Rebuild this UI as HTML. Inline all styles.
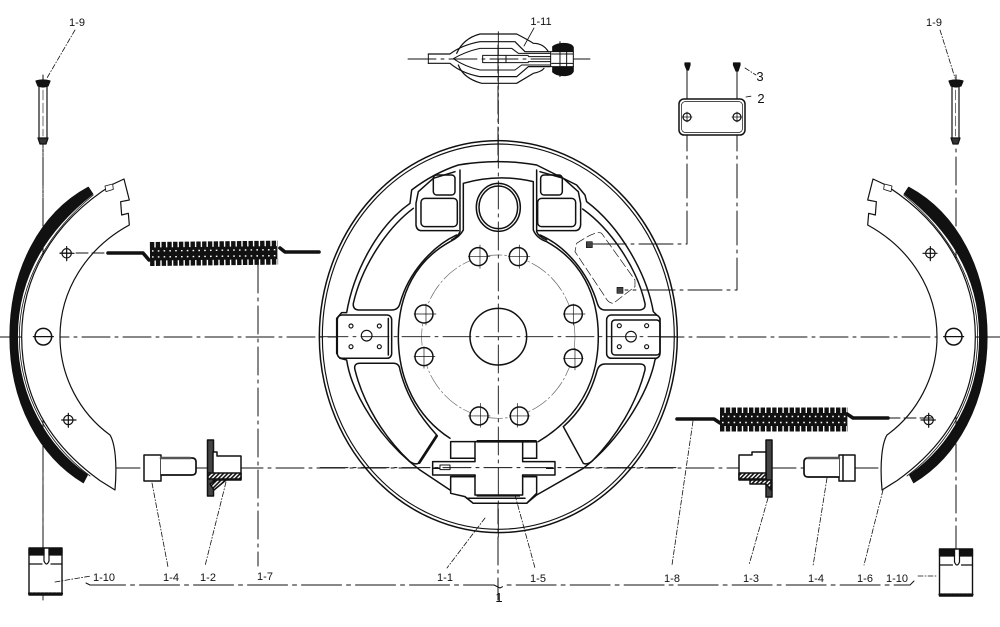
<!DOCTYPE html>
<html><head><meta charset="utf-8"><style>
html,body{margin:0;padding:0;background:#fff;width:1000px;height:627px;overflow:hidden}
svg{display:block}
text{font-family:"Liberation Sans",sans-serif;font-size:11px;fill:#111;stroke:none;text-anchor:middle}
</style></head><body>
<svg width="1000" height="627" viewBox="0 0 1000 627" xmlns="http://www.w3.org/2000/svg" fill="none" stroke="#111" stroke-width="1.200" stroke-linecap="round" stroke-linejoin="round">
<defs>
<pattern id="h" width="3" height="3" patternUnits="userSpaceOnUse" patternTransform="rotate(45)"><rect width="3" height="3" fill="#fff" stroke="none"/><rect width="1.600" height="3" fill="#111" stroke="none"/></pattern>
<g id="shoe">
<g transform="translate(0 170) scale(.3333)" stroke-width="3.600">
<path d="M265,52C120,130 30,300 30,500C30,700 120,860 250,938L262,915C140,830 52,680 52,500C52,320 140,180 278,72Z" fill="#111"/>
<path d="M340,42C150,160 65,330 65,500C65,660 130,810 300,932L345,960C352,880 345,820 330,795C240,730 180,620 180,500C180,360 260,235 388,165L385,130L365,135L362,95L388,90L372,27Z" fill="#fff"/>
<path d="M280,75C140,190 58,340 58,500C58,670 140,820 270,918" stroke-width="2.400"/>
<path d="M315,48L338,42L340,58L318,65Z" fill="#fff" stroke-width="2.400"/>
<circle cx="200" cy="250" r="14" fill="#fff"/><circle cx="205" cy="750" r="14" fill="#fff"/><circle cx="130" cy="500" r="25" fill="#fff" stroke-width="4.500"/>
<path d="M180,250H222M200,230V272M185,750H228M205,730V772M100,500H160"/>
</g></g>
<g id="coil">
<line x1="0" y1="0" x2="128" y2="0" stroke-width="24" stroke-dasharray="4.400 1.400" stroke-linecap="butt"/>
<line x1="1" y1="0" x2="127" y2="0" stroke-width="13" stroke-linecap="butt"/>
<line x1="2" y1="-3" x2="126" y2="-3" stroke="#fff" stroke-width="1.400" stroke-dasharray="1.600 4.200" stroke-linecap="butt"/>
<line x1="2" y1="3" x2="126" y2="3" stroke="#fff" stroke-width="1.400" stroke-dasharray="1.600 4.200" stroke-linecap="butt"/>
</g>
<g id="clip">
<path d="M0,0H33V47H0Z" fill="#fff" stroke-width="1.400"/>
<path d="M0,1H15V7H0ZM20,1H33V7H20Z" fill="#111"/>
<path d="M15,0V13Q17.500,19 20,13V0M0,16H13M22,16H33"/>
<path d="M0,45.500H33" stroke-width="2.200" stroke-dasharray="3 1"/>
</g>
</defs>

<!-- centre lines -->
<g stroke-width="1" stroke-dasharray="28 5 3 5">
<path d="M0,337H1000"/>
<path d="M112,468H908"/>
<path d="M498,45V600"/>
<path d="M43,75V600"/><path d="M956,75V600"/>
<path d="M258,265V566"/>
</g>
<path d="M408,59H590" stroke-width=".9" stroke-dasharray="28 5 3 5"/>

<!-- backing plate -->
<g transform="translate(320 140) scale(.3333)" stroke-width="4.500">
<ellipse cx="535" cy="590" rx="537" ry="588"/>
<ellipse cx="535" cy="590" rx="528" ry="578" stroke-width="3.500"/>
<path d="M415,75Q535,55 650,75L770,135L795,165L800,185C900,260 980,400 1000,515L1020,535V640L1005,660C985,760 900,900 790,985L650,1065L620,1090H460L435,1070L390,1050L300,990C180,900 95,760 80,660L60,655L50,640V535L65,518H80C100,400 170,260 270,190L275,150Q340,100 415,75Z" fill="#fff"/>
<path d="M788,207C870,265 950,380 975,490Q978,508 960,510H855Q838,510 832,490C805,400 740,320 660,285"/>
<path d="M280,205C200,265 125,380 100,490Q98,508 115,510H215Q235,510 240,490C265,400 335,320 410,285"/>
<path d="M105,690Q100,670 120,670H220Q238,670 240,690C260,770 300,830 350,885L295,970Q285,975 270,965C190,890 130,790 105,690Z"/>
<path d="M350,888L298,968" stroke-width="8"/>
<path d="M975,690Q978,672 960,672H855Q838,672 832,690C810,770 775,820 730,860L790,970Q800,975 815,965C890,890 950,790 975,690Z"/>
<path d="M430,130Q535,100 640,125V270Q650,295 680,305C780,360 835,460 835,590C835,720 780,830 655,905M430,130V270Q420,290 390,305C290,360 235,460 235,590C235,720 290,830 390,895"/>
<path d="M420,90V275Q415,290 395,300M650,90V275Q655,290 680,300"/>
<rect x="340" y="105" width="65" height="60" rx="10"/><rect x="303" y="175" width="109" height="85" rx="12"/>
<rect x="662" y="105" width="65" height="60" rx="10"/><rect x="653" y="175" width="114" height="85" rx="12"/>
<path d="M405,95L340,115L295,155L288,190V255Q290,272 305,272H415M660,95L730,115L775,155L782,190V255Q780,272 765,272H650"/>
<rect x="52" y="525" width="163" height="130" rx="14" fill="#fff"/>
<rect x="860" y="525" width="160" height="130" rx="14" fill="#fff"/><rect x="875" y="540" width="145" height="105" rx="10"/>
<path d="M205,535V645"/>
<g fill="#fff" stroke-width="3.500"><circle cx="93" cy="558" r="6"/><circle cx="178" cy="558" r="6"/><circle cx="93" cy="620" r="6"/><circle cx="178" cy="620" r="6"/><circle cx="140" cy="587" r="16"/>
<circle cx="898" cy="557" r="6"/><circle cx="980" cy="557" r="6"/><circle cx="898" cy="620" r="6"/><circle cx="980" cy="620" r="6"/><circle cx="933" cy="590" r="16"/></g>
<ellipse cx="535" cy="202" rx="66" ry="72" fill="#fff"/><ellipse cx="535" cy="202" rx="58" ry="64"/>
<ellipse cx="535" cy="590" rx="230" ry="245" stroke-width="2" stroke-dasharray="50 8 6 8" stroke="#666"/>
<circle cx="535" cy="590" r="85" fill="#fff" stroke-width="4.500"/>
<g fill="#fff" stroke-width="4.500">
<circle cx="475" cy="350" r="27"/><circle cx="595" cy="350" r="27"/><circle cx="312" cy="522" r="27"/><circle cx="760" cy="522" r="27"/>
<circle cx="312" cy="650" r="27"/><circle cx="760" cy="655" r="27"/><circle cx="477" cy="828" r="27"/><circle cx="598" cy="828" r="27"/></g>
<path stroke-width="2" d="M445,350H510M480,315V385M565,350H630M598,315V385M282,522H348M318,492V555M730,522H795M760,492V555M282,650H345M312,620V685M730,655H790M765,625V690M445,828H510M482,790V862M568,828H630M592,790V862"/>
<path stroke-width="2" stroke-dasharray="26 10" d="M770,310Q830,270 845,280L945,420V440L880,490Q865,490 855,470L765,335Z"/>
<!-- cylinder -->
<path fill="#fff" d="M392,905H650V955H608V965H705V1005H608V1010H650V1060L620,1090H460L435,1070L392,1060V1010H465V1005H338V965H465V955H392Z"/>
<path d="M465,905V955M608,905V955M465,1005V1065H608V1005M392,955H465M608,955H650M392,1010H465M608,1010H650M440,1075H615M340,985H390M680,985H700"/>
<rect x="360" y="975" width="30" height="14" fill="#fff" stroke-width="3"/>
<path d="M470,900H650V908H470ZM470,1065H600V1070H470Z" fill="#111" stroke="none"/>
<path d="M0,983H1080" stroke-width="3" stroke-dasharray="84 15 9 15"/>
<path d="M535,0V1200M0,590H1080" stroke-width="2.700" stroke-dasharray="84 15 9 15"/>
<rect x="799" y="305" width="18" height="18" fill="#444" stroke-width="2"/><rect x="891" y="442" width="18" height="18" fill="#444" stroke-width="2"/>
</g>
<path d="M687,70V244H593M737,70V290H625" stroke-width="1" stroke-dasharray="34 5 3 5"/>

<!-- shoes -->
<use href="#shoe"/>
<use href="#shoe" transform="translate(997 0) scale(-1 1)"/>
<path d="M43,120V210M43,470V600" stroke-width=".9" stroke-dasharray="28 5 3 5"/>

<!-- springs -->
<path d="M108,253H143L149,260" stroke-width="3.600"/><path d="M280,248L285,252H319" stroke-width="3.600"/>
<g transform="translate(150 254) rotate(-.6)"><use href="#coil"/></g>
<path d="M677,419H714L720,423" stroke-width="3.600"/><path d="M847,414L853,418H888" stroke-width="3.600"/>
<g transform="translate(720 419.500)"><use href="#coil"/></g>
<path d="M60,253H108" stroke-width="1" stroke-dasharray="12 4"/><path d="M888,418H932" stroke-width="1" stroke-dasharray="12 4"/>

<!-- bolts and bushes -->
<g fill="#fff" stroke-width="1.500">
<rect x="144" y="455" width="17" height="26"/><path d="M161,458H192Q196,458 196,462V471Q196,475 192,475H161" stroke-width="1.700"/><path d="M161,458H190" stroke-width="2.600" stroke="#555"/>
<rect x="207.500" y="440" width="6" height="56" fill="#444"/>
<path d="M213,452H217V456H241V480H213Z"/>
<rect x="208" y="473" width="33" height="6" fill="url(#h)"/><path d="M210,484L216,480H226L214,490Z" fill="url(#h)"/>
<rect x="839" y="455" width="16" height="26"/><path d="M839,458H808Q804,458 804,462V473Q804,477 808,477H839" stroke-width="1.700"/><path d="M839,458H808" stroke-width="2.600" stroke="#555"/><path d="M843,455V481"/>
<rect x="766" y="440" width="6" height="57" fill="#444"/>
<path d="M766,452H752V455H739V480H766Z"/>
<rect x="739" y="473" width="27" height="6" fill="url(#h)"/><path d="M750,480H771V490L766,484H750Z" fill="url(#h)"/>
</g>

<!-- pins -->
<g fill="#fff"><rect x="39" y="86" width="8" height="55"/><path d="M36,81Q43,79 50,81L48,86Q43,88 38,86Z" fill="#111"/><path d="M38,138H48L46,144H40Z" fill="#333"/>
<rect x="952" y="86" width="7" height="55"/><path d="M949,81Q956,79 963,81L961,86Q956,88 951,86Z" fill="#111"/><path d="M951,138H960L958,144H953Z" fill="#333"/></g>
<path d="M43,90V136M955.500,90V136" stroke-width=".6" stroke-dasharray="10 3"/>

<!-- clips -->
<g transform="translate(29 548)"><use href="#clip"/></g>
<g transform="translate(939.500 549)"><use href="#clip"/></g>

<!-- 1-11 -->
<g transform="translate(400 10) scale(.3333)" stroke-width="3">
<path d="M25,147H75M520,147H550" stroke-width="2.500"/>
<path d="M170,130Q190,85 240,72H350Q385,90 400,100Q430,100 445,125M175,165Q190,205 245,220H350L400,190Q425,185 432,175" stroke-width="3.600"/>
<path d="M85,132H150Q185,105 240,95H345L375,125H450M85,160H150Q185,190 240,200H350L385,170H450" stroke-width="3.600"/>
<path d="M160,146Q195,125 240,115H335L355,130H450M160,146Q195,170 240,180H345L365,165H450"/>
<path d="M85,132V160"/>
<path d="M248,136H385M248,158H385M248,136V158M318,136V158M385,140H520M385,155H520" fill="#fff"/>
<path d="M458,125V110Q470,100 490,100Q515,100 520,112V128ZM458,170V186Q470,197 490,197Q515,197 520,184V168Z" fill="#111"/>
<rect x="452" y="125" width="68" height="45" fill="#fff"/>
<path d="M455,132H520M455,160H520M480,95V200M500,125V170"/>
<path d="M295,65V390" stroke-width="2.700" stroke-dasharray="70 12 9 12"/>
</g>

<!-- plate 2 and screws -->
<rect x="679" y="99" width="66" height="36" rx="5" fill="#fff" stroke-width="1.500"/>
<rect x="681.500" y="101.500" width="61" height="31" rx="4" stroke-width=".7"/>
<circle cx="687" cy="117" r="4" fill="#fff"/><circle cx="737" cy="117" r="4" fill="#fff"/>
<path d="M682,117H692M687,112V122M732,117H742M737,112V122" stroke-width=".8"/>
<path d="M685,63H690V65L688.500,70H687L685,65ZM733.500,63H740V65L738,71H736L733.500,65Z" fill="#111"/>
<path d="M687,75V99M737,75V99" stroke-width="1" stroke-dasharray="8 3"/>

<!-- leaders -->
<g stroke-width=".8" stroke-dasharray="5 2 1 2">
<path d="M75,30L47,78"/><path d="M940,30L955,78"/>
<path d="M152,483L168,567"/><path d="M226,482L205,566"/>
<path d="M485,518L447,568"/><path d="M515,495L535,568"/>
<path d="M693,421L672,565"/><path d="M768,498L749,565"/><path d="M827,478L813,566"/><path d="M883,490L864,565"/>
<path d="M55,582L91,576"/><path d="M918,576H938"/>
<path d="M745,68L756,75M746,97L752,96"/>
</g>
<path d="M534,28L524,46" stroke-width=".8"/>
<path d="M86,583L90,585H494L500,588L506,585H910L914,581" stroke-width="1" stroke-dasharray="40 5 4 5"/>

<!-- labels -->
<text x="77" y="26">1-9</text><text x="934" y="26">1-9</text><text x="541" y="25">1-11</text>
<text x="760" y="81" style="font-size:13px">3</text><text x="761" y="103" style="font-size:13px">2</text>
<text x="104" y="581">1-10</text><text x="171" y="581">1-4</text><text x="208" y="581">1-2</text><text x="265" y="580">1-7</text>
<text x="445" y="581">1-1</text><text x="538" y="582">1-5</text><text x="672" y="582">1-8</text><text x="751" y="582">1-3</text>
<text x="816" y="582">1-4</text><text x="865" y="582">1-6</text><text x="897" y="582">1-10</text>
<text x="499" y="602" style="font-size:13px">1</text>
</svg>
</body></html>
